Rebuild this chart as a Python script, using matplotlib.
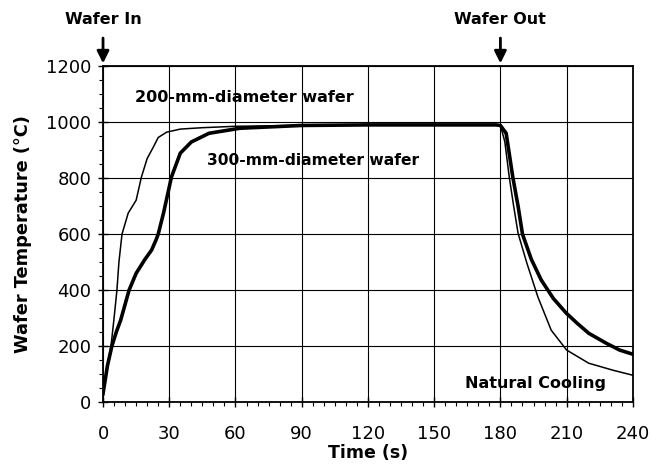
import numpy as np
import matplotlib.pyplot as plt
from matplotlib.ticker import MultipleLocator

plt.rcParams['font.family'] = ['DejaVu Sans']

# 200-mm wafer (thin curve)
t_200 = [0, 1, 2, 3.6, 5, 6.3, 7.2, 8.6, 11.4, 15, 17.4, 20, 22.8, 25, 28.8, 35, 45, 60, 90, 120, 150, 178,
         180, 182, 184, 186, 188, 192, 197, 203, 210, 220, 231, 240]
T_200 = [30, 80, 130, 200, 300, 400, 500, 600, 675, 721, 804, 870, 911, 945, 964, 975, 980, 985, 988, 990, 990, 990,
         988, 930, 804, 700, 603, 496, 375, 257, 186, 139, 114, 96]

# 300-mm wafer (thick curve)
t_300 = [0, 1, 2, 4, 6, 8, 11.8, 15, 19, 22, 24, 25, 27.4, 31, 35, 40, 48, 62, 90, 120, 150, 178,
         180, 182.6, 185.6, 188, 190, 194, 198.5, 204, 209.8, 215, 220, 228, 234, 240]
T_300 = [30, 80, 130, 200, 250, 293, 400, 460, 510, 543, 579, 600, 675, 804, 889, 929, 960, 978, 988, 990, 990, 990,
         988, 960, 804, 700, 600, 510, 436, 370, 318, 280, 246, 210, 186, 171]

x_ticks = [0, 30, 60, 90, 120, 150, 180, 210, 240]
y_ticks = [0, 200, 400, 600, 800, 1000, 1200]

fig = plt.figure(figsize=(6.69, 4.72), dpi=100)
ax = fig.add_axes([0.154, 0.148, 0.792, 0.712])

ax.plot(t_200, T_200, color='black', lw=1.1, zorder=3)
ax.plot(t_300, T_300, color='black', lw=2.6, zorder=3)

ax.set_xlim(0, 240)
ax.set_ylim(0, 1200)
ax.set_xticks(x_ticks)
ax.set_yticks(y_ticks)
ax.xaxis.set_minor_locator(MultipleLocator(5))
ax.yaxis.set_minor_locator(MultipleLocator(50))
ax.grid(True, which='major', color='black', lw=0.8)
ax.tick_params(which='major', direction='inout', length=7, width=1, labelsize=13)
ax.tick_params(axis='x', which='major', pad=13)
ax.tick_params(axis='y', which='major', pad=5)
ax.tick_params(which='minor', direction='out', length=3, width=0.8)
for s in ax.spines.values():
    s.set_linewidth(1.3)

ax.set_xlabel('Time (s)', fontsize=12.5, fontweight='bold', labelpad=1)
ax.set_ylabel('Wafer Temperature (°C)', fontsize=12.8, fontweight='bold', labelpad=10)

ax.text(14.5, 1089, '200-mm-diameter wafer', fontsize=11.5, fontweight='bold', va='center', ha='left')
ax.text(47, 862, '300-mm-diameter wafer', fontsize=11.2, fontweight='bold', va='center', ha='left')
ax.text(164, 68, 'Natural Cooling', fontsize=11.5, fontweight='bold', va='center', ha='left')

for xa, label in [(0, 'Wafer In'), (180, 'Wafer Out')]:
    ax.annotate('', xy=(xa, 1200), xytext=(xa, 1310), annotation_clip=False,
                arrowprops=dict(arrowstyle='-|>', color='black', lw=2, mutation_scale=18))
    ax.text(xa, 1368, label, fontsize=11.5, fontweight='bold', ha='center', va='center', clip_on=False)

fig.savefig('out.png', dpi=100)
